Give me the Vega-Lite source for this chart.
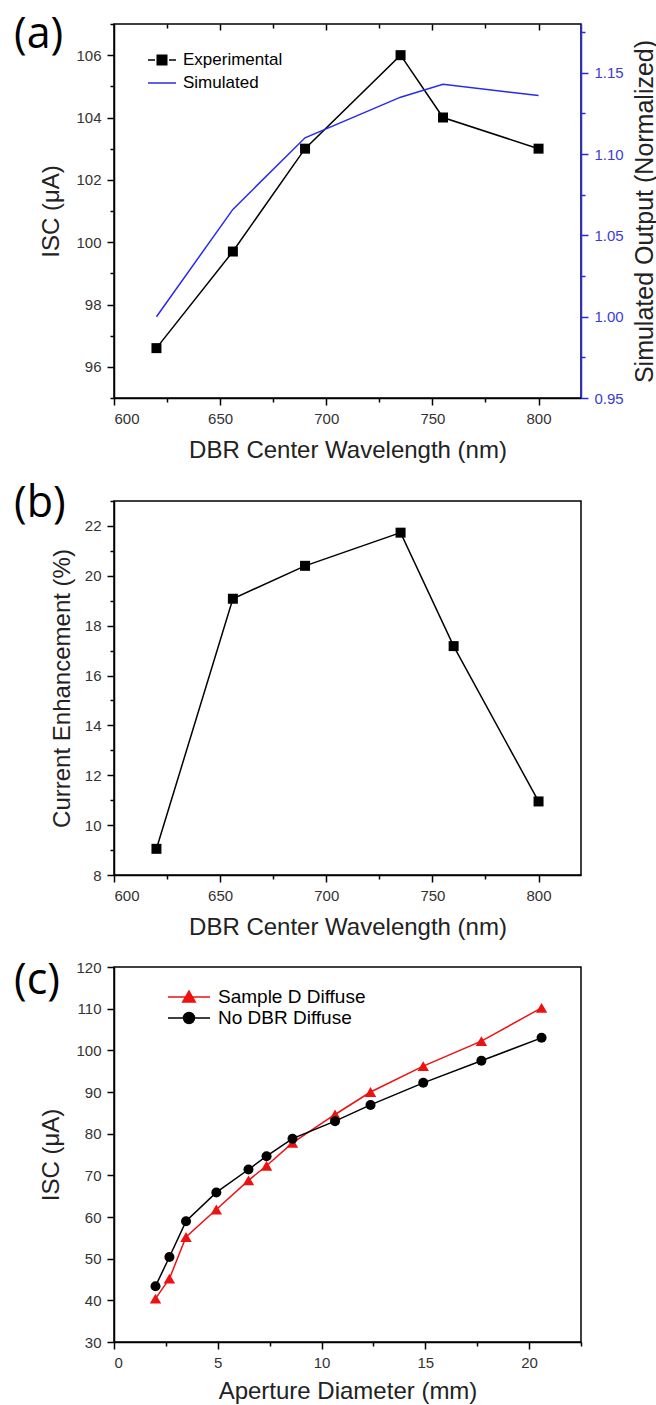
{
  "$schema": "https://vega.github.io/schema/vega-lite/v6.json",
  "background": "white",
  "padding": {"left": 13, "top": 13, "right": 0, "bottom": 2},
  "datasets": {
    "expA": [
      {"wavelength": 620, "isc": 96.6, "series": "Experimental"},
      {"wavelength": 656, "isc": 99.7, "series": "Experimental"},
      {"wavelength": 690, "isc": 103.0, "series": "Experimental"},
      {"wavelength": 735, "isc": 106.0, "series": "Experimental"},
      {"wavelength": 755, "isc": 104.0, "series": "Experimental"},
      {"wavelength": 800, "isc": 103.0, "series": "Experimental"}
    ],
    "simA": [
      {"wavelength": 620, "norm": 1.000, "series": "Simulated"},
      {"wavelength": 656, "norm": 1.066, "series": "Simulated"},
      {"wavelength": 690, "norm": 1.110, "series": "Simulated"},
      {"wavelength": 735, "norm": 1.135, "series": "Simulated"},
      {"wavelength": 755, "norm": 1.143, "series": "Simulated"},
      {"wavelength": 800, "norm": 1.136, "series": "Simulated"}
    ],
    "enhB": [
      {"wavelength": 620, "enh": 9.05},
      {"wavelength": 656, "enh": 19.08},
      {"wavelength": 690, "enh": 20.4},
      {"wavelength": 735, "enh": 21.73},
      {"wavelength": 760, "enh": 17.18},
      {"wavelength": 800, "enh": 10.95}
    ],
    "redC": [
      {"d": 2.0, "isc": 40.4, "series": "Sample D Diffuse"},
      {"d": 2.67, "isc": 45.2, "series": "Sample D Diffuse"},
      {"d": 3.47, "isc": 55.2, "series": "Sample D Diffuse"},
      {"d": 4.93, "isc": 61.8, "series": "Sample D Diffuse"},
      {"d": 6.48, "isc": 68.8, "series": "Sample D Diffuse"},
      {"d": 7.35, "isc": 72.3, "series": "Sample D Diffuse"},
      {"d": 8.6, "isc": 77.8, "series": "Sample D Diffuse"},
      {"d": 10.65, "isc": 84.6, "series": "Sample D Diffuse"},
      {"d": 12.36, "isc": 90.0, "series": "Sample D Diffuse"},
      {"d": 14.9, "isc": 96.2, "series": "Sample D Diffuse"},
      {"d": 17.7, "isc": 102.2, "series": "Sample D Diffuse"},
      {"d": 20.6, "isc": 110.2, "series": "Sample D Diffuse"}
    ],
    "blackC": [
      {"d": 2.0, "isc": 43.4, "series": "No DBR Diffuse"},
      {"d": 2.67, "isc": 50.4, "series": "No DBR Diffuse"},
      {"d": 3.47, "isc": 59.0, "series": "No DBR Diffuse"},
      {"d": 4.93, "isc": 65.9, "series": "No DBR Diffuse"},
      {"d": 6.48, "isc": 71.4, "series": "No DBR Diffuse"},
      {"d": 7.35, "isc": 74.6, "series": "No DBR Diffuse"},
      {"d": 8.6, "isc": 78.8, "series": "No DBR Diffuse"},
      {"d": 10.65, "isc": 83.0, "series": "No DBR Diffuse"},
      {"d": 12.36, "isc": 86.9, "series": "No DBR Diffuse"},
      {"d": 14.9, "isc": 92.2, "series": "No DBR Diffuse"},
      {"d": 17.7, "isc": 97.5, "series": "No DBR Diffuse"},
      {"d": 20.6, "isc": 103.0, "series": "No DBR Diffuse"}
    ]
  },
  "vconcat": [
    {
      "width": 467,
      "height": 374,
      "title": {"text": "(a)", "anchor": "start", "frame": "group", "orient": "top", "font": "Open Sans", "fontSize": 43, "fontWeight": "normal", "color": "black", "baseline": "alphabetic", "offset": -68, "dx": -100},
      "layer": [
        {
          "data": {"name": "expA"},
          "mark": {"type": "line", "strokeWidth": 1.5, "point": {"shape": "square", "size": 100, "filled": true}},
          "encoding": {
            "x": {"field": "wavelength", "type": "quantitative",
              "scale": {"domain": [600, 820], "nice": false, "zero": false},
              "axis": {"title": "DBR Center Wavelength (nm)", "values": [600, 625, 650, 675, 700, 725, 750, 775, 800],
                "labelExpr": "datum.value % 50 === 0 ? datum.label : ''",
                "tickSize": {"condition": {"test": "datum.value % 50 === 0", "value": 7}, "value": 4},
                "titlePadding": 12}},
            "y": {"field": "isc", "type": "quantitative",
              "scale": {"domain": [95, 107], "nice": false, "zero": false},
              "axis": {"title": "ISC (μA)", "values": [95, 96, 97, 98, 99, 100, 101, 102, 103, 104, 105, 106, 107],
                "labelExpr": "datum.value % 2 === 0 ? datum.label : ''",
                "tickSize": {"condition": {"test": "datum.value % 2 === 0", "value": 7}, "value": 4},
                "titlePadding": 12}},
            "color": {"field": "series", "type": "nominal",
              "scale": {"domain": ["Experimental", "Simulated"], "range": ["black", "#2a2aeb"]},
              "legend": {"title": null, "orient": "none", "legendX": 33, "legendY": 21, "padding": 0,
                "labelFont": "Liberation Sans", "labelFontSize": 17, "labelColor": "black", "labelOffset": 6,
                "symbolSize": 784, "symbolStrokeWidth": 1.5, "rowPadding": -8,
                "encode": {"symbols": {"update": {
                  "shape": [{"test": "datum.value === 'Experimental'", "value": "M-1,0H-0.5M0.5,0H1M-0.34,-0.34H0.34V0.34H-0.34Z"}, {"value": "M-1,0H1"}],
                  "fill": [{"test": "datum.value === 'Experimental'", "value": "black"}, {"value": "transparent"}],
                  "stroke": [{"test": "datum.value === 'Experimental'", "value": "black"}, {"value": "#2a2aeb"}],
                  "strokeWidth": {"value": 1.5},
                  "opacity": {"value": 1}
                }}}}}
          }
        },
        {
          "data": {"name": "simA"},
          "mark": {"type": "line", "strokeWidth": 1.5},
          "encoding": {
            "x": {"field": "wavelength", "type": "quantitative", "axis": null},
            "y": {"field": "norm", "type": "quantitative",
              "scale": {"domain": [0.95, 1.18], "nice": false, "zero": false},
              "axis": {"orient": "right", "title": "Simulated Output (Normalized)",
                "values": [0.95, 0.975, 1.0, 1.025, 1.05, 1.075, 1.1, 1.125, 1.15, 1.175],
                "labelExpr": "round(datum.value * 1000) % 50 === 0 ? format(datum.value, '.2f') : ''",
                "tickSize": {"condition": {"test": "round(datum.value * 1000) % 50 === 0", "value": 7}, "value": 4},
                "domainColor": "#2a2aeb", "tickColor": "#2a2aeb", "labelColor": "#3b3bd6",
                "titleFontSize": 25, "titleAngle": 270, "titleBaseline": "top", "titlePadding": 9}},
            "color": {"field": "series", "type": "nominal"}
          }
        },
        {
          "data": {"name": "simA"},
          "mark": {"type": "point", "opacity": 0},
          "encoding": {
            "x": {"field": "wavelength", "type": "quantitative",
              "axis": {"orient": "top", "title": null, "labels": false, "domain": false,
                "values": [625, 650, 675, 700, 725, 750, 775, 800],
                "tickSize": {"condition": {"test": "datum.value % 50 === 0", "value": -6}, "value": -4}}}
          }
        }
      ],
      "resolve": {"scale": {"y": "independent"}, "axis": {"x": "independent"}}
    },
    {
      "width": 467,
      "height": 374,
      "title": {"text": "(b)", "anchor": "start", "frame": "group", "orient": "top", "font": "Open Sans", "fontSize": 43, "fontWeight": "normal", "color": "black", "baseline": "alphabetic", "offset": -60, "dx": -100},
      "data": {"name": "enhB"},
      "mark": {"type": "line", "strokeWidth": 1.5, "color": "black", "point": {"shape": "square", "size": 100, "filled": true, "color": "black"}},
      "encoding": {
        "x": {"field": "wavelength", "type": "quantitative",
          "scale": {"domain": [600, 820], "nice": false, "zero": false},
          "axis": {"title": "DBR Center Wavelength (nm)", "values": [600, 625, 650, 675, 700, 725, 750, 775, 800],
            "labelExpr": "datum.value % 50 === 0 ? datum.label : ''",
            "tickSize": {"condition": {"test": "datum.value % 50 === 0", "value": 7}, "value": 4},
            "titlePadding": 12}},
        "y": {"field": "enh", "type": "quantitative",
          "scale": {"domain": [8, 23], "nice": false, "zero": false},
          "axis": {"title": "Current Enhancement (%)", "values": [8, 9, 10, 11, 12, 13, 14, 15, 16, 17, 18, 19, 20, 21, 22, 23],
            "labelExpr": "datum.value % 2 === 0 ? datum.label : ''",
            "tickSize": {"condition": {"test": "datum.value % 2 === 0", "value": 7}, "value": 4},
            "titlePadding": 10}}
      }
    },
    {
      "width": 467,
      "height": 375,
      "title": {"text": "(c)", "anchor": "start", "frame": "group", "orient": "top", "font": "Open Sans", "fontSize": 43, "fontWeight": "normal", "color": "black", "baseline": "alphabetic", "offset": -77, "dx": -100},
      "layer": [
        {
          "data": {"name": "redC"},
          "mark": {"type": "line", "strokeWidth": 1.5, "point": {"shape": "triangle-up", "size": 130, "filled": true}},
          "encoding": {
            "x": {"field": "d", "type": "quantitative",
              "scale": {"domain": [0, 22.5], "nice": false, "zero": false},
              "axis": {"title": "Aperture Diameter (mm)", "values": [0, 2.5, 5, 7.5, 10, 12.5, 15, 17.5, 20, 22.5],
                "labelExpr": "datum.value % 5 === 0 ? datum.label : ''",
                "tickSize": {"condition": {"test": "datum.value % 5 === 0", "value": 7}, "value": 4},
                "titlePadding": 9}},
            "y": {"field": "isc", "type": "quantitative",
              "scale": {"domain": [30, 120], "nice": false, "zero": false},
              "axis": {"title": "ISC (μA)", "values": [30, 35, 40, 45, 50, 55, 60, 65, 70, 75, 80, 85, 90, 95, 100, 105, 110, 115, 120],
                "labelExpr": "datum.value % 10 === 0 ? datum.label : ''",
                "tickSize": {"condition": {"test": "datum.value % 10 === 0", "value": 7}, "value": 4},
                "titlePadding": 12}},
            "color": {"field": "series", "type": "nominal",
              "scale": {"domain": ["Sample D Diffuse", "No DBR Diffuse"], "range": ["#ee1111", "black"]},
              "legend": {"title": null, "orient": "none", "legendX": 64, "legendY": 19, "padding": 0,
                "labelFont": "Liberation Sans", "labelFontSize": 19, "labelColor": "black", "labelOffset": 18,
                "symbolSize": 400, "symbolStrokeWidth": 1.5, "rowPadding": 0,
                "encode": {"symbols": {"update": {
                  "shape": [{"test": "datum.value === 'Sample D Diffuse'", "value": "M-2.1,0H2.1M0,-0.6L0.63,0.5H-0.63Z"}, {"value": "M-2.1,0H2.1M-0.55,0a0.55,0.55 0 1,0 1.1,0a0.55,0.55 0 1,0 -1.1,0Z"}],
                  "fill": [{"test": "datum.value === 'Sample D Diffuse'", "value": "#ee1111"}, {"value": "black"}],
                  "stroke": [{"test": "datum.value === 'Sample D Diffuse'", "value": "#ee1111"}, {"value": "black"}],
                  "strokeWidth": {"value": 1.5},
                  "opacity": {"value": 1}
                }}}}}
          }
        },
        {
          "data": {"name": "blackC"},
          "mark": {"type": "line", "strokeWidth": 1.5, "point": {"shape": "circle", "size": 100, "filled": true}},
          "encoding": {
            "x": {"field": "d", "type": "quantitative"},
            "y": {"field": "isc", "type": "quantitative"},
            "color": {"field": "series", "type": "nominal"}
          }
        }
      ]
    }
  ],
  "resolve": {"scale": {"color": "independent"}, "legend": {"color": "independent"}},
  "spacing": 19,
  "bounds": "full",
  "config": {
    "view": {"stroke": "black", "strokeWidth": 1.5},
    "axis": {
      "grid": false,
      "domainColor": "black", "domainWidth": 1.5,
      "tickColor": "black", "tickWidth": 1.5,
      "labelFont": "Liberation Sans", "labelFontSize": 15, "labelColor": "#333333", "labelPadding": 6,
      "titleFont": "Liberation Sans", "titleFontSize": 24, "titleFontWeight": "normal", "titleColor": "#222222"
    }
  }
}
